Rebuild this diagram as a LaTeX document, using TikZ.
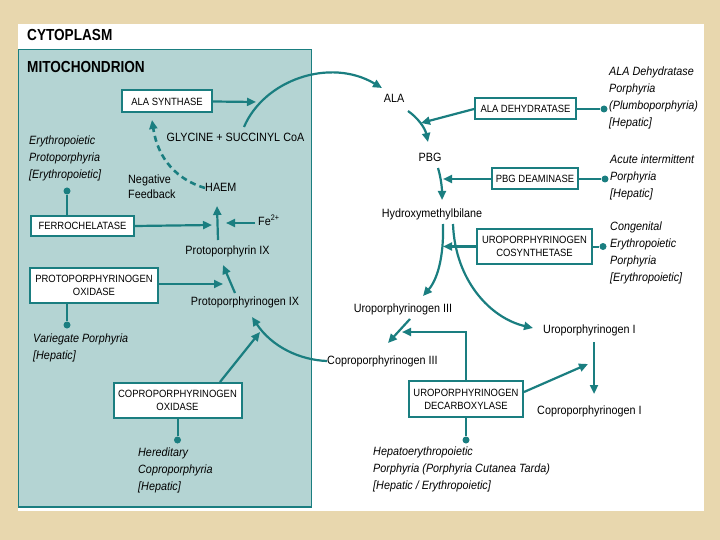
\documentclass[tikz,border=0pt]{standalone}
\usepackage{fontspec}
\setmainfont{Liberation Sans}[FakeStretch=0.9]
\newfontfamily\headfont[FakeStretch=0.85]{Liberation Sans}
\usetikzlibrary{arrows.meta}
\definecolor{tealc}{HTML}{1A7E80}
\definecolor{mitofill}{HTML}{B4D4D3}
\definecolor{parch}{HTML}{E8D7AE}
\tikzset{
 enz/.style={draw=tealc, line width=2pt, fill=white, inner sep=0pt, align=center, font=\fontsize{10.5}{13}\selectfont},
 lbl/.style={inner sep=0pt, text height=9pt, text depth=2.8pt, font=\fontsize{12}{14}\selectfont},
 dis/.style={inner sep=0pt, align=left, anchor=north west, font=\fontsize{12}{17}\selectfont\itshape},
 arr/.style={draw=tealc, line width=2.2pt, -{Triangle[length=9pt,width=8pt]}},
 link/.style={draw=tealc, line width=2pt},
 dotc/.style={circle, fill=tealc, inner sep=0pt, minimum size=7pt},
 head/.style={inner sep=0pt, anchor=west, font=\headfont\bfseries\fontsize{16}{18}\selectfont},
}
\begin{document}
\begin{tikzpicture}[x=1pt,y=-1pt]
\useasboundingbox (0,0) rectangle (720,540);
% background, panel, mitochondrion
\fill[parch] (0,0) rectangle (720,540);
\fill[white] (18,24) rectangle (704,511);
\filldraw[fill=mitofill, draw=tealc, line width=0.8pt] (18,49) rectangle (311,507);
\draw[tealc, line width=2pt] (18,507) -- (311,507);

% headings
\node[head] (cyto) at (27,35) {CYTOPLASM};
\node[head] (mitot) at (27,67) {MITOCHONDRION};

% enzymes
\node[enz, minimum width=90pt, minimum height=22pt] (alas) at (167,101.5) {ALA SYNTHASE};
\node[enz, minimum width=103pt, minimum height=20pt] (ferro) at (82.5,226) {FERROCHELATASE};
\node[enz, minimum width=128pt, minimum height=35pt] (ppox) at (94,285) {PROTOPORPHYRINOGEN\\OXIDASE};
\node[enz, minimum width=128pt, minimum height=35pt] (cpox) at (177.5,400) {COPROPORPHYRINOGEN\\OXIDASE};
\node[enz, minimum width=101pt, minimum height=21pt] (alad) at (525.5,109) {ALA DEHYDRATASE};
\node[enz, minimum width=86pt, minimum height=21pt] (pbgd) at (535,179) {PBG DEAMINASE};
\node[enz, minimum width=115pt, minimum height=35pt] (uros) at (534.5,246.5) {UROPORPHYRINOGEN\\COSYNTHETASE};
\node[enz, minimum width=114pt, minimum height=36pt] (urod) at (466,399) {UROPORPHYRINOGEN\\DECARBOXYLASE};

% metabolites and labels
\node[lbl] (gly) at (235.5,138) {GLYCINE + SUCCINYL CoA};
\node[lbl, anchor=west] (haem) at (205,188) {HAEM};
\node[inner sep=0pt, align=left, anchor=west, font=\fontsize{12}{15.5}\selectfont] (negfb) at (128,186.5) {Negative\\Feedback};
\node[lbl, anchor=west] (fe) at (258,222) {Fe\textsuperscript{2+}};
\node[lbl] (ppix) at (227.5,251) {Protoporphyrin IX};
\node[lbl] (ppgen) at (245,302) {Protoporphyrinogen IX};
\node[lbl] (ala) at (394,99) {ALA};
\node[lbl] (pbg) at (430,158) {PBG};
\node[lbl] (hmb) at (432,214) {Hydroxymethylbilane};
\node[lbl] (uro3) at (403,309) {Uroporphyrinogen III};
\node[lbl, anchor=west] (uro1) at (543,330) {Uroporphyrinogen I};
\node[lbl, anchor=west] (copro3) at (327,361) {Coproporphyrinogen III};
\node[lbl, anchor=west] (copro1) at (537,411) {Coproporphyrinogen I};

% diseases
\node[dis] (epp) at (29,136) {Erythropoietic\\Protoporphyria\\{[}Erythropoietic{]}};
\node[dis] (vp) at (33,334) {Variegate Porphyria\\{[}Hepatic{]}};
\node[dis] (hcp) at (138,448) {Hereditary\\Coproporphyria\\{[}Hepatic{]}};
\node[dis] (adp) at (609,67) {ALA Dehydratase\\Porphyria\\(Plumboporphyria)\\{[}Hepatic{]}};
\node[dis] (aip) at (610,155) {Acute intermittent\\Porphyria\\{[}Hepatic{]}};
\node[dis] (cep) at (610,222) {Congenital\\Erythropoietic\\Porphyria\\{[}Erythropoietic{]}};
\node[dis] (hep) at (373,447) {Hepatoerythropoietic\\Porphyria (Porphyria Cutanea Tarda)\\{[}Hepatic / Erythropoietic{]}};

% disease dots
\node[dotc] (d1) at (67,191) {};
\node[dotc] (d2) at (67,325) {};
\node[dotc] (d3) at (177.5,440) {};
\node[dotc] (d4) at (604,109) {};
\node[dotc] (d5) at (605,179) {};
\node[dotc] (d6) at (603,246.5) {};
\node[dotc] (d7) at (466,440) {};
\draw[link] (d1) -- (ferro.north -| d1);
\draw[link] (ppox.south -| d2) -- (d2);
\draw[link] (cpox.south) -- (d3);
\draw[link] (alad.east) -- (d4);
\draw[link] (pbgd.east) -- (d5);
\draw[link] (uros.east) -- (d6);
\draw[link] (urod.south) -- (d7);

% free ends
\coordinate (t1) at (256,102);
\coordinate (glys) at (244,127);
\coordinate (alat) at (382,88);
\coordinate (fbt) at (152,120);
\coordinate (t2) at (212,225);
\coordinate (fes) at (255,223);
\coordinate (fet) at (226,223);
\coordinate (t3) at (223,284);
\coordinate (t4) at (260,332);
\coordinate (t5) at (421,123);
\coordinate (t6) at (443,179);
\coordinate (t7) at (443,246.5);
\coordinate (bend) at (466,332);
\coordinate (t8) at (402,332);
\coordinate (t9) at (588,364);

% mitochondrial arrows
\draw[arr] (alas.east) -- (t1);
\draw[arr] (glys) .. controls (264,80) and (330,57) .. (alat);
\draw[arr, dash pattern=on 6pt off 4pt, line width=2.6pt] (haem.west) .. controls (178,180) and (158,160) .. (fbt);
\draw[arr] (ferro.east) -- (t2);
\draw[arr] (fes) -- (fet);
\draw[arr] (218,240) -- (217,206);
\draw[arr] (ppox.east |- t3) -- (t3);
\draw[arr] (235,293) -- (223,265);
\draw[arr] (220,382) -- (t4);
\draw[arr] (copro3.west) .. controls (300,360) and (272,347) .. (252,317);

% cytoplasmic arrows
\draw[arr] (408,111) .. controls (418,118) and (425,128) .. (428,142);
\draw[arr] (alad.west) -- (t5);
\draw[arr] (pbgd.west) -- (t6);
\draw[arr] (438,168) .. controls (441,178) and (442,188) .. (442,200);
\draw[arr] (uros.west) -- (t7);
\draw[arr] (443,224) .. controls (444,258) and (437,280) .. (423,296);
\draw[arr] (453,224) .. controls (455,280) and (490,318) .. (533,328);
\draw[arr] (410,319) -- (388,343);
\draw[arr] (urod.north) -- (bend) -- (t8);
\draw[arr] ([yshift=-12pt]urod.north east) -- (t9);
\draw[arr] (594,342) -- (594,394);
\end{tikzpicture}
\end{document}
